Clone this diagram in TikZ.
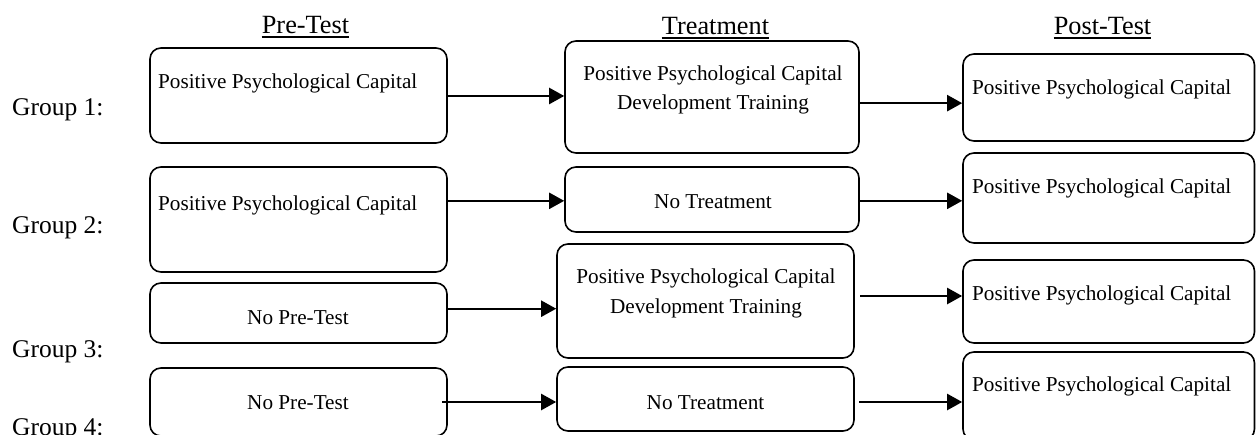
\documentclass[tikz,border=0pt]{standalone}
\usepackage{fontspec}
\setmainfont{Liberation Serif}
\usetikzlibrary{arrows.meta,calc}
\begin{document}
\begin{tikzpicture}[x=1pt,y=-1pt,
  box/.style={draw, line width=1.6pt, rounded corners=11pt, inner sep=0pt},
  txt/.style={inner sep=0pt, font=\fontsize{21.2}{26}\selectfont},
  hdr/.style={inner sep=0pt, anchor=base, font=\fontsize{26.3}{30}\selectfont},
  grp/.style={inner sep=0pt, anchor=base west, font=\fontsize{25.5}{30}\selectfont},
  arr/.style={line width=2.2pt, -{Triangle[length=15pt,width=16pt]}},
  uline/.style={line width=1.4pt}]
\useasboundingbox (0,0) rectangle (1256,434);

% headers
\node[hdr] (h1) at (305.5,33) {Pre-Test};
\node[hdr] (h2) at (715.5,34) {Treatment};
\node[hdr] (h3) at (1102.5,34) {Post-Test};
\foreach \h in {h1,h2,h3}{
  \draw[uline] ($(\h.base west)+(0,4)$) -- ($(\h.base east)+(0,4)$);
}

% group labels
\node[grp] (g1) at (12,115) {Group 1:};
\node[grp] (g2) at (12,233) {Group 2:};
\node[grp] (g3) at (12,357) {Group 3:};
\node[grp] (g4) at (12,435) {Group 4:};

% pre-test boxes
\node[box, minimum width=297pt, minimum height=95pt]  (A1) at (298.5,95.5) {};
\node[box, minimum width=297pt, minimum height=105pt] (A2) at (298.5,219.5) {};
\node[box, minimum width=297pt, minimum height=60pt]  (A3) at (298.5,313) {};
\node[box, minimum width=297pt, minimum height=68pt]  (A4) at (298.5,402) {};

% treatment boxes
\node[box, minimum width=294pt, minimum height=112pt] (B1) at (712,97) {};
\node[box, minimum width=294pt, minimum height=65pt]  (B2) at (712,199.5) {};
\node[box, minimum width=297pt, minimum height=114pt] (B3) at (705.5,301) {};
\node[box, minimum width=297pt, minimum height=64pt]  (B4) at (705.5,399) {};

% post-test boxes
\node[box, minimum width=291.5pt, minimum height=87pt] (C1) at (1108.75,97.5) {};
\node[box, minimum width=291.5pt, minimum height=90pt] (C2) at (1108.75,198) {};
\node[box, minimum width=291.5pt, minimum height=83pt] (C3) at (1108.75,301.5) {};
\node[box, minimum width=291.5pt, minimum height=88pt] (C4) at (1108.75,396) {};

% texts
\node[txt, anchor=base west] (tA1) at (158,88) {Positive Psychological Capital};
\node[txt, anchor=base west] (tA2) at (158,210) {Positive Psychological Capital};
\node[txt, anchor=base] (tA3) at (298,324) {No Pre-Test};
\node[txt, anchor=base] (tA4) at (298,409) {No Pre-Test};

\node[txt, anchor=base] (tB1a) at (713,80) {Positive Psychological Capital};
\node[txt, anchor=base] (tB1b) at (713,109) {Development Training};
\node[txt, anchor=base] (tB2) at (713,208) {No Treatment};
\node[txt, anchor=base] (tB3a) at (706,283) {Positive Psychological Capital};
\node[txt, anchor=base] (tB3b) at (706,313) {Development Training};
\node[txt, anchor=base] (tB4) at (705.5,409) {No Treatment};

\node[txt, anchor=base west] (tC1) at (972,94) {Positive Psychological Capital};
\node[txt, anchor=base west] (tC2) at (972,193) {Positive Psychological Capital};
\node[txt, anchor=base west] (tC3) at (972,300) {Positive Psychological Capital};
\node[txt, anchor=base west] (tC4) at (972,391) {Positive Psychological Capital};

% arrow start points
\coordinate (s1) at ($(A1.north east)!0.505!(A1.south east)$);
\coordinate (s2) at ($(B2.north west)!0.52!(B2.south west)$);
\coordinate (s3) at ($(A3.north east)!0.43!(A3.south east)$);
\coordinate (s4) at (442,402);
\coordinate (s5) at ($(B1.north east)!0.554!(B1.south east)$);
\coordinate (s6) at ($(B2.north east)!0.52!(B2.south east)$);
\coordinate (s7) at (860,296);
\coordinate (s8) at (859,402);

\draw[arr] (s1) -- (s1 -| B1.west);
\draw[arr] (s2 -| A2.east) -- (B2.west |- s2);
\draw[arr] (s3) -- (s3 -| B3.west);
\draw[arr] (s4) -- (s4 -| B4.west);
\draw[arr] (s5) -- (s5 -| C1.west);
\draw[arr] (s6) -- (s6 -| C2.west);
\draw[arr] (s7) -- (s7 -| C3.west);
\draw[arr] (s8) -- (s8 -| C4.west);
\end{tikzpicture}
\end{document}
